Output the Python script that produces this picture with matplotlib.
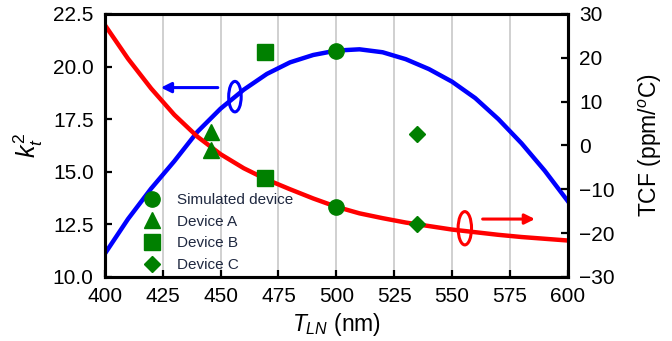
import numpy as np
import matplotlib
matplotlib.use("Agg")
import matplotlib.pyplot as plt
from matplotlib.patches import Ellipse
from matplotlib.lines import Line2D

plt.rcParams['font.family'] = ['Liberation Sans', 'DejaVu Sans']
plt.rcParams['mathtext.fontset'] = 'custom'
plt.rcParams['mathtext.rm'] = 'Liberation Sans'
plt.rcParams['mathtext.it'] = 'Liberation Sans:italic'

# thickness grid (nm)
t_ln = np.array([400, 410, 420, 430, 440, 450, 460, 470, 480, 490, 500,
                 510, 520, 530, 540, 550, 560, 570, 580, 590, 600])
# simulated kt^2 (left axis)
kt2 = np.array([11.1, 12.75, 14.2, 15.5, 16.9, 18.0, 18.9, 19.65, 20.2, 20.55, 20.76,
                20.82, 20.68, 20.35, 19.88, 19.28, 18.5, 17.5, 16.35, 15.05, 13.6])
# simulated TCF (right axis)
tcf = np.array([27.5, 19.8, 13.0, 7.0, 2.0, -2.0, -5.2, -7.8, -10.0, -12.1, -14.0,
                -15.5, -16.6, -17.6, -18.4, -19.2, -19.8, -20.4, -20.9, -21.3, -21.7])

# devices: name, thickness, kt2, TCF
dev_names = ['Simulated device', 'Device A', 'Device B', 'Device C']
dev_t = [500, 446, 469, 535]
dev_kt2 = [20.76, 16.9, 20.71, 16.78]
dev_tcf = [-14.1, -1.0, -7.5, -18.0]
dev_markers = ['o', '^', 's', 'D']
dev_sizes = [11, 12, 11.5, 8]

green = '#008000'

fig = plt.figure(figsize=(6.72, 3.41), dpi=100)
ax = fig.add_axes([0.156, 0.188, 0.689, 0.771])
ax2 = ax.twinx()

ax.plot(t_ln, kt2, color='#0000ff', lw=3.2, zorder=2)
ax2.plot(t_ln, tcf, color='#ff0000', lw=3.2, zorder=2)

for x, k, c, m, s in zip(dev_t, dev_kt2, dev_tcf, dev_markers, dev_sizes):
    ax.plot(x, k, m, color=green, ms=s, zorder=3)
    ax2.plot(x, c, m, color=green, ms=s, zorder=3)

ax.set_xlim(400, 600)
ax.set_ylim(10, 22.5)
ax2.set_ylim(-30, 30)
ax.set_xticks(np.arange(400, 601, 25))
ax.set_yticks(np.arange(10, 22.6, 2.5))
ax.set_yticklabels(['%.1f' % v for v in np.arange(10, 22.6, 2.5)])
ax2.set_yticks(np.arange(-30, 31, 10))
ax.grid(axis='x', color='#c8c8c8', lw=1.2)
ax.set_axisbelow(True)

for a in (ax, ax2):
    for sp in a.spines.values():
        sp.set_linewidth(2.2)
    a.tick_params(direction='in', length=5, width=1.6, labelsize=15, pad=8)
ax.tick_params(axis='x', pad=7)

ax.set_xlabel(r'$T_{LN}$ (nm)', fontsize=16.5, labelpad=4)
ax.set_ylabel(r'$k_t^2$', fontsize=18, labelpad=6)
ax2.set_ylabel(r'TCF (ppm/$^o$C)', fontsize=16.5, labelpad=16)

# arrows and ellipses marking which axis each curve belongs to
ax.annotate('', xy=(423, 19.0), xytext=(450, 19.0),
            arrowprops=dict(arrowstyle='-|>', color='#0000ff', lw=2.2, mutation_scale=15))
ax.add_patch(Ellipse((456.2, 18.57), 5.4, 1.45, fill=False, ec='#0000ff', lw=2.2, zorder=4))
ax2.annotate('', xy=(587, -16.8), xytext=(562, -16.8),
             arrowprops=dict(arrowstyle='-|>', color='#ff0000', lw=2.2, mutation_scale=15))
ax2.add_patch(Ellipse((555.5, -18.9), 5.8, 7.6, fill=False, ec='#ff0000', lw=2.2, zorder=4))

handles = [Line2D([], [], ls='none', marker=m, color=green, ms=s)
           for m, s in zip(dev_markers, dev_sizes)]
ax2.legend(handles, dev_names, loc='upper left', bbox_to_anchor=(0.06, 0.36),
           frameon=False, fontsize=11, labelcolor='#1f2840', handletextpad=1.0,
           labelspacing=0.5, handlelength=1.2, borderpad=0.2)

fig.savefig('out.png', dpi=100)
